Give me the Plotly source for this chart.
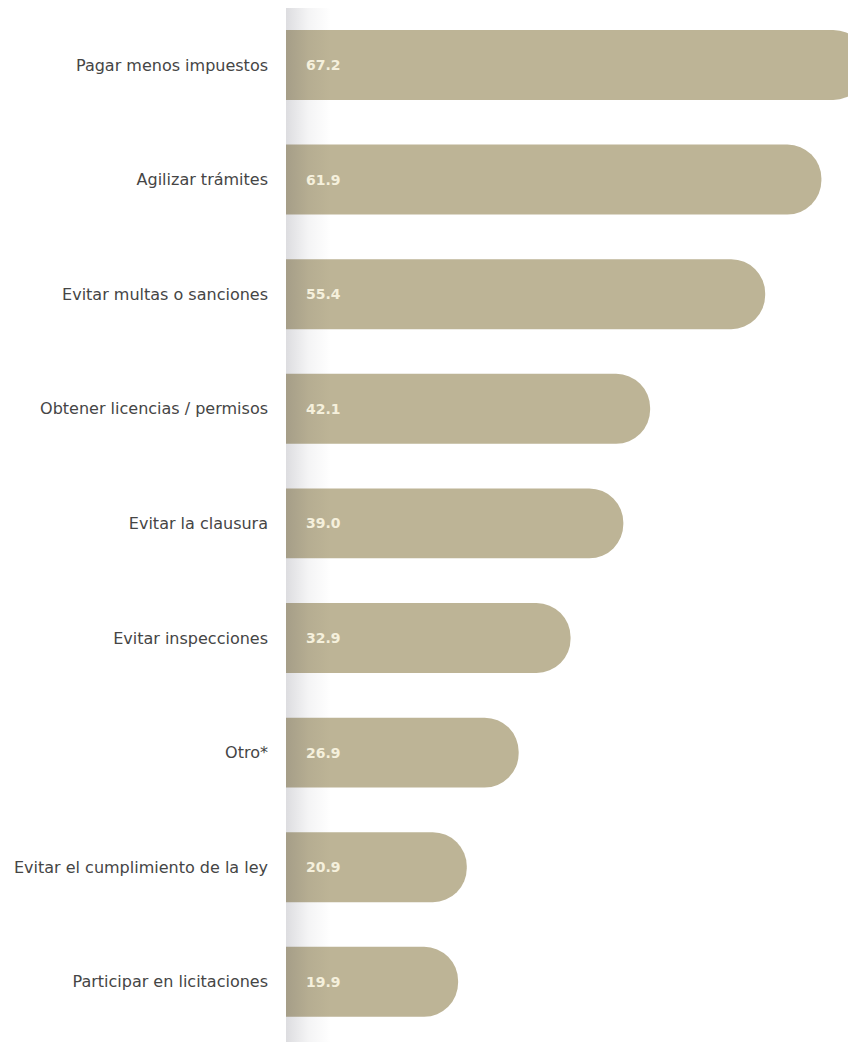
import plotly.graph_objects as go

categories = [
    "Pagar menos impuestos",
    "Agilizar trámites",
    "Evitar multas o sanciones",
    "Obtener licencias / permisos",
    "Evitar la clausura",
    "Evitar inspecciones",
    "Otro*",
    "Evitar el cumplimiento de la ley",
    "Participar en licitaciones",
]
values = [67.2, 61.9, 55.4, 42.1, 39.0, 32.9, 26.9, 20.9, 19.9]
value_labels = [f"{v:.1f}" for v in values]

BAR_COLOR = "#BDB496"
TEXT_COLOR = "#F5F0DC"
LABEL_COLOR = "#454545"
FONT = "DejaVu Sans"

n = len(categories)
y_top = -0.497
y_bottom = 8.525

fig = go.Figure()

fig.add_trace(go.Bar(
    y=categories,
    x=values,
    orientation="h",
    width=0.61,
    marker=dict(color=BAR_COLOR, line=dict(width=0), cornerradius="50%"),
    hoverinfo="skip",
))

# left-edge shadow overlay (gradient)
shadow_w = 5.2
fig.add_trace(go.Scatter(
    x=[0, shadow_w, shadow_w, 0, 0],
    y=[y_top, y_top, y_bottom, y_bottom, y_top],
    yaxis="y2",
    mode="lines",
    line=dict(width=0),
    fill="toself",
    fillgradient=dict(
        type="horizontal",
        colorscale=[[0, "rgba(40,40,60,0.16)"], [0.5, "rgba(40,40,60,0.05)"], [1, "rgba(40,40,60,0)"]],
    ),
    hoverinfo="skip",
    showlegend=False,
))

for cat, lab in zip(categories, value_labels):
    fig.add_annotation(
        x=0, y=cat, xref="x", yref="y",
        text=f"<b>{lab}</b>",
        showarrow=False, xanchor="left", xshift=18,
        font=dict(family=FONT, size=14, color=TEXT_COLOR),
    )

fig.update_layout(
    width=848, height=1034,
    margin=dict(l=278, r=0, t=0, b=0),
    paper_bgcolor="white",
    plot_bgcolor="white",
    showlegend=False,
    font=dict(family=FONT, size=16, color=LABEL_COLOR),
    xaxis=dict(range=[0, 65.9], visible=False, fixedrange=True, automargin=False),
    yaxis=dict(
        categoryorder="array", categoryarray=categories,
        range=[y_bottom, y_top],
        showgrid=False, zeroline=False, showline=False,
        ticks="", ticklabelstandoff=17, automargin=False,
        tickfont=dict(family=FONT, size=16, color=LABEL_COLOR),
    ),
    yaxis2=dict(range=[y_bottom, y_top], overlaying="y", visible=False),
)

fig.write_html("out.html")
